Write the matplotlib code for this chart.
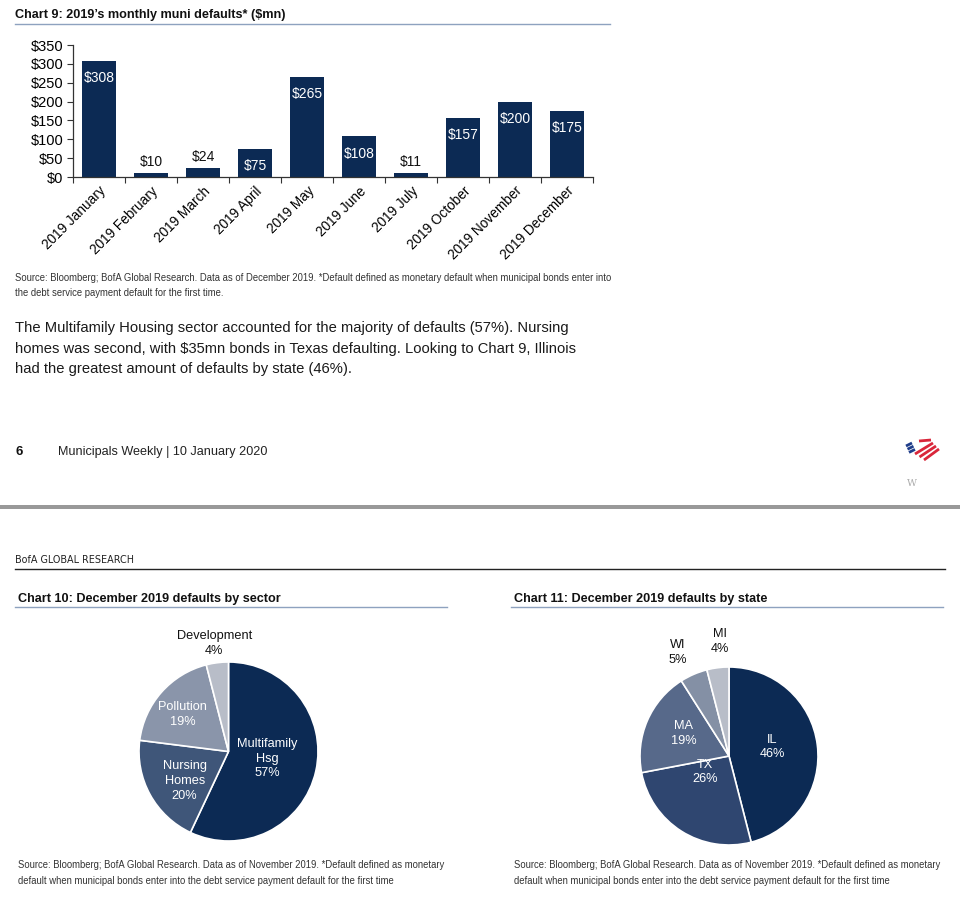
import matplotlib.pyplot as plt
import matplotlib.patches as mpatches
import numpy as np

# chart 9 data
months = ['2019 January', '2019 February', '2019 March', '2019 April', '2019 May',
          '2019 June', '2019 July', '2019 October', '2019 November', '2019 December']
defaults_mn = [308, 10, 24, 75, 265, 108, 11, 157, 200, 175]
y_ticks = [0, 50, 100, 150, 200, 250, 300, 350]

# chart 10 data
sectors = ['Multifamily\nHsg', 'Nursing\nHomes', 'Pollution', 'Development']
sector_pct = [57, 20, 19, 4]

# chart 11 data
states = ['IL', 'TX', 'MA', 'WI', 'MI']
state_pct = [46, 26, 19, 5, 4]

NAVY = '#0c2a54'
sector_colors = [NAVY, '#3f5679', '#8a95aa', '#b8bdc8']
state_colors = [NAVY, '#2f4670', '#57698a', '#8490a5', '#b8bdc8']
# label offsets inside pie (radius units)
sector_label_xy = [(0.43, -0.08), (-0.49, -0.33), (-0.51, 0.41), (-0.16, 1.21)]
state_label_xy = [(0.49, 0.10), (-0.27, -0.18), (-0.51, 0.25), (-0.58, 1.16), (-0.10, 1.29)]

plt.rcParams['font.family'] = ['Liberation Sans', 'DejaVu Sans']

W, H = 960, 899
fig = plt.figure(figsize=(W / 100, H / 100), dpi=100)

# page overlay in pixel coords
page = fig.add_axes([0, 0, 1, 1])
page.set_xlim(0, W)
page.set_ylim(H, 0)
page.axis('off')


def ax_rect(x0, y0, x1, y1):
    return [x0 / W, 1 - y1 / H, (x1 - x0) / W, (y1 - y0) / H]


title_col = '#111111'
src_col = '#333333'
rule_col = '#8ea2bf'
SRC_FS = 6.85

# ---- Chart 9
page.text(15, 15, "Chart 9: 2019\u2019s monthly muni defaults* ($mn)", fontsize=9.1,
          fontweight='bold', va='center', color=title_col)
page.plot([15, 610], [24, 24], color=rule_col, lw=1)

ax = fig.add_axes(ax_rect(73, 45, 593, 177))
x = np.arange(len(months))
bars = ax.bar(x, defaults_mn, width=0.65, color=NAVY)
ax.set_xlim(-0.5, len(months) - 0.5)
ax.set_ylim(0, 350)
ax.set_yticks(y_ticks)
ax.set_yticklabels(['$%d' % v for v in y_ticks], fontsize=10.5)
ax.set_xticks(np.arange(-0.5, len(months)))
ax.set_xticklabels([])
ax.set_xticks(x, minor=True)
ax.set_xticklabels(months, minor=True, rotation=45, ha='right',
                   rotation_mode='anchor', fontsize=9.8)
ax.tick_params(axis='x', which='minor', length=0, pad=5)
ax.tick_params(axis='x', which='major', length=4, direction='out', color='#333333')
ax.tick_params(axis='y', length=4, direction='out', color='#333333', pad=3)
for s in ['top', 'right']:
    ax.spines[s].set_visible(False)
for s in ['left', 'bottom']:
    ax.spines[s].set_color('#333333')
    ax.spines[s].set_linewidth(0.9)
for xi, v in zip(x, defaults_mn):
    if v >= 50:
        ax.annotate('$%d' % v, (xi, v), xytext=(0, -12.5), textcoords='offset points',
                    ha='center', va='center', color='white', fontsize=10)
    else:
        ax.annotate('$%d' % v, (xi, v), xytext=(0, 3), textcoords='offset points',
                    ha='center', va='bottom', color='#111111', fontsize=10)

page.text(15, 278, "Source: Bloomberg; BofA Global Research. Data as of December 2019. "
          "*Default defined as monetary default when municipal bonds enter into",
          fontsize=SRC_FS, va='center', color=src_col)
page.text(15, 293, "the debt service payment default for the first time.",
          fontsize=SRC_FS, va='center', color=src_col)

para = ["The Multifamily Housing sector accounted for the majority of defaults (57%). Nursing",
        "homes was second, with $35mn bonds in Texas defaulting. Looking to Chart 9, Illinois",
        "had the greatest amount of defaults by state (46%)."]
for i, line in enumerate(para):
    page.text(15, 328 + i * 20.5, line, fontsize=10.6, va='center', color='#1a1a1a')

page.text(15, 452, '6', fontsize=9.5, fontweight='bold', va='center', color='#111111')
page.text(58, 452, 'Municipals Weekly | 10 January 2020', fontsize=9.1, va='center',
          color='#222222')

# logo
logo = fig.add_axes(ax_rect(898, 430, 952, 468))
logo.set_xlim(0, 54)
logo.set_ylim(38, 0)
logo.axis('off')
for i in range(3):
    logo.plot([8 + i * 1.5, 14 + i * 1.5], [16 + i * 3.2, 13 + i * 3.2], color='#1f3d8a',
              lw=2.0, solid_capstyle='butt')
logo.plot([21, 33], [11, 10], color='#d9263a', lw=2.0, solid_capstyle='butt')
for i in range(3):
    logo.plot([17 + i * 4.5, 35 + i * 3], [24 + i * 3, 13 + i * 3], color='#d9263a',
              lw=2.0, solid_capstyle='butt')
page.text(912, 484, 'W', fontsize=7, va='center', ha='center', color='#aaaaaa',
          family='DejaVu Serif')

page.add_patch(mpatches.Rectangle((0, 505), W, 4, color='#999999', lw=0))

# ---- page 2 header
page.text(15, 560, 'BofA GLOBAL RESEARCH', fontsize=6.9, va='center', color='#222222',
          family='DejaVu Sans')
page.plot([15, 945], [569, 569], color='#222222', lw=1)


def draw_pie(cx, cy, r, values, names, colors, label_xy, title, tx):
    page.text(tx, 599, title, fontsize=9.1, fontweight='bold', va='center', color=title_col)
    page.plot([tx - 3, tx + 429], [607, 607], color=rule_col, lw=1)
    pa = fig.add_axes(ax_rect(cx - r, cy - r, cx + r, cy + r))
    pa.pie(values, colors=colors, startangle=90, counterclock=False,
           wedgeprops=dict(edgecolor='white', linewidth=1.2))
    pa.set_xlim(-1, 1)
    pa.set_ylim(-1, 1)
    pa.set_aspect('equal')
    pa.axis('off')
    for name, v, (lx, ly), c in zip(names, values, label_xy, colors):
        inside = (lx * lx + ly * ly) < 1
        pa.text(lx, ly, '%s\n%d%%' % (name, v), ha='center', va='center',
                fontsize=9.2, color='white' if inside else '#111111',
                linespacing=1.3, clip_on=False)
    page.text(tx, 865, "Source: Bloomberg; BofA Global Research. Data as of November 2019. "
              "*Default defined as monetary", fontsize=SRC_FS, va='center', color=src_col)
    page.text(tx, 881, "default when municipal bonds enter into the debt service payment "
              "default for the first time", fontsize=SRC_FS, va='center', color=src_col)


draw_pie(228.5, 751.5, 89.5, sector_pct, sectors, sector_colors, sector_label_xy,
         'Chart 10: December 2019 defaults by sector', 18)
draw_pie(729, 756, 89, state_pct, states, state_colors, state_label_xy,
         'Chart 11: December 2019 defaults by state', 514)

fig.savefig('out.png', dpi=100)
